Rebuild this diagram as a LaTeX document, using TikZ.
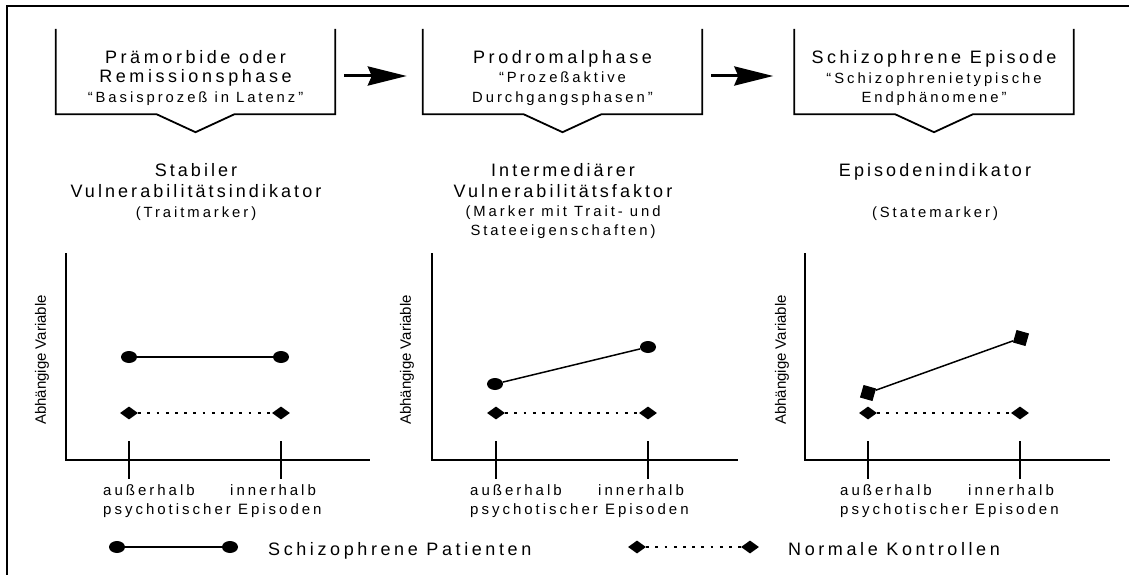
\documentclass[tikz,border=0pt]{standalone}
\usepackage{fontspec}
\setmainfont{Liberation Sans}
\newfontfamily\spaced{Liberation Sans}[LetterSpace=20]
\newfontfamily\spacedtitle{Liberation Sans}[LetterSpace=17]
\usetikzlibrary{shapes.geometric,arrows.meta}

\tikzset{
  big/.style={font=\spaced\fontsize{18}{21}\selectfont, inner sep=0pt, anchor=base},
  title/.style={font=\spacedtitle\fontsize{18}{21}\selectfont, inner sep=0pt, anchor=base},
  small/.style={font=\spaced\fontsize{14.8}{17}\selectfont, inner sep=0pt, anchor=base},
  ticklbl/.style={font=\spaced\fontsize{15}{18}\selectfont, inner sep=0pt, anchor=base west},
  ylbl/.style={font=\fontsize{15}{18}\selectfont, inner sep=0pt, rotate=90},
  stage/.style={minimum width=279pt, minimum height=85pt, inner sep=0pt},
  stageline/.style={line width=1.8pt},
  flow/.style={line width=3pt, -{Stealth[length=39pt,width=19pt,inset=4pt]}},
  frame/.style={line width=2pt},
  axis/.style={line width=2.2pt},
  tickmark/.style={line width=2pt},
  pat/.style={ellipse, fill, minimum width=16pt, minimum height=12pt, inner sep=0pt},
  ctl/.style={diamond, fill, minimum width=18pt, minimum height=13pt, inner sep=0pt},
  patsq/.style={rectangle, fill, minimum size=13pt, inner sep=0pt, rotate=-16},
  patline/.style={line width=1.5pt},
  ctlline/.style={line width=1.8pt, dash pattern=on 2.8pt off 6.4pt},
}

\begin{document}
\begin{tikzpicture}[x=1pt, y=-1pt]
\useasboundingbox (0,0) rectangle (1129,575);

% outer frame (top and left edges)
\draw[frame] (7,575) -- (7,6) -- (1129,6);

% three stage boxes, open at the top, with a chevron at the bottom
\node[stage] (s1) at (195.5,71.5) {};
\node[stage] (s2) at (562.5,71.5) {};
\node[stage] (s3) at (934,71.5) {};
\foreach \s in {s1,s2,s3}
  \draw[stageline] (\s.north west) -- (\s.south west) -- ([xshift=-39pt]\s.south)
    -- ([yshift=-18pt]\s.south) -- ([xshift=39pt]\s.south) -- (\s.south east) -- (\s.north east);

\node[big]   (s1a) at (195.5,64)  {Prämorbide oder};
\node[big]   (s1b) at (195.5,83)  {Remissionsphase};
\node[small] (s1c) at (195.5,103) {“Basisprozeß in Latenz”};
\node[big]   (s2a) at (562.5,64)  {Prodromalphase};
\node[small] (s2b) at (562.5,83)  {“Prozeßaktive};
\node[small] (s2c) at (562.5,103) {Durchgangsphasen”};
\node[big]   (s3a) at (934,64)    {Schizophrene Episode};
\node[small] (s3b) at (934,83.5)  {“Schizophrenietypische};
\node[small] (s3c) at (934,102.5) {Endphänomene”};

% arrows between stages
\draw[flow, shorten <=9pt, shorten >=16pt] ([yshift=-4.5pt]s1.east) -- ([yshift=-4.5pt]s2.west);
\draw[flow, shorten <=9pt, shorten >=21pt] ([yshift=-4.5pt]s2.east) -- ([yshift=-4.5pt]s3.west);

% indicator titles
\node[title] (t1a) at (196,176) {Stabiler};
\node[title] (t1b) at (196,197) {Vulnerabilitätsindikator};
\node[small] (t1c) at (196,217) {(Traitmarker)};
\node[title] (t2a) at (563,176) {Intermediärer};
\node[title] (t2b) at (563,197) {Vulnerabilitätsfaktor};
\node[small] (t2c) at (563,216) {(Marker mit Trait- und};
\node[small] (t2d) at (563,235) {Stateeigenschaften)};
\node[title] (t3a) at (935,176) {Episodenindikator};
\node[small] (t3c) at (935,217) {(Statemarker)};

% plot 1: trait marker
\draw[axis] (66,253) -- (66,460) -- (370,460);
\draw[tickmark] (129,441) -- (129,479);
\draw[tickmark] (281,441) -- (281,479);
\node[ylbl] (y1) at (42,360) {Abhängige Variable};
\node[pat] (p1a) at (129,357) {};
\node[pat] (p1b) at (281,357) {};
\draw[patline] (p1a) -- (p1b);
\node[ctl] (k1a) at (129,413) {};
\node[ctl] (k1b) at (281,413) {};
\draw[ctlline] (k1a) -- (k1b);
\node[ticklbl] (x1a) at (103,495) {außerhalb};
\node[ticklbl] (x1b) at (230,495) {innerhalb};
\node[ticklbl] (x1c) at (103,514) {psychotischer Episoden};

% plot 2: trait and state marker
\draw[axis] (432,253) -- (432,460) -- (738,460);
\draw[tickmark] (496,441) -- (496,479);
\draw[tickmark] (648,441) -- (648,479);
\node[ylbl] (y2) at (407,360) {Abhängige Variable};
\node[pat] (p2a) at (495,384) {};
\node[pat] (p2b) at (648,347) {};
\draw[patline] (p2a) -- (p2b);
\node[ctl] (k2a) at (496,413) {};
\node[ctl] (k2b) at (648,413) {};
\draw[ctlline] (k2a) -- (k2b);
\node[ticklbl] (x2a) at (470,495) {außerhalb};
\node[ticklbl] (x2b) at (598,495) {innerhalb};
\node[ticklbl] (x2c) at (470,514) {psychotischer Episoden};

% plot 3: state marker
\draw[axis] (805,253) -- (805,460) -- (1110,460);
\draw[tickmark] (868,441) -- (868,479);
\draw[tickmark] (1020,441) -- (1020,479);
\node[ylbl] (y3) at (782,360) {Abhängige Variable};
\node[patsq] (p3a) at (868,393) {};
\node[patsq] (p3b) at (1021,338) {};
\draw[patline] (p3a) -- (p3b);
\node[ctl] (k3a) at (868,413) {};
\node[ctl] (k3b) at (1020,413) {};
\draw[ctlline] (k3a) -- (k3b);
\node[ticklbl] (x3a) at (840,495) {außerhalb};
\node[ticklbl] (x3b) at (968,495) {innerhalb};
\node[ticklbl] (x3c) at (840,514) {psychotischer Episoden};

% legend
\node[pat] (lp1) at (117,547) {};
\node[pat] (lp2) at (230,547) {};
\draw[patline] (lp1) -- (lp2);
\node[big, anchor=base west] (lpt) at (268,555) {Schizophrene Patienten};
\node[ctl] (lk1) at (637,547) {};
\node[ctl] (lk2) at (750,547) {};
\draw[ctlline] (lk1) -- (lk2);
\node[big, anchor=base west] (lkt) at (788,555) {Normale Kontrollen};
\end{tikzpicture}
\end{document}
